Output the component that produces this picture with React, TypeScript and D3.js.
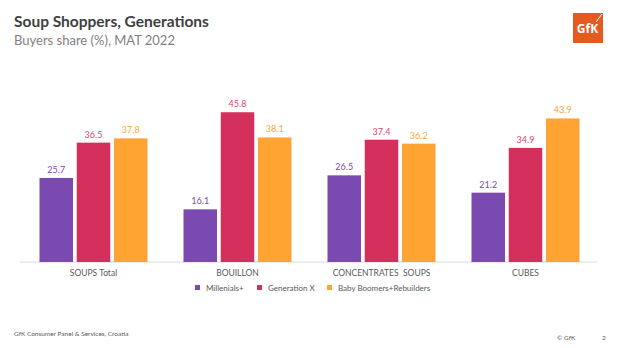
import React from "react";
import * as d3 from "d3";

const categories = ["SOUPS Total", "BOUILLON", "CONCENTRATES  SOUPS", "CUBES"];
const seriesNames = ["Millenials+", "Generation X", "Baby Boomers+Rebuilders"];
const millenials = [25.7, 16.1, 26.5, 21.2];
const generationX = [36.5, 45.8, 37.4, 34.9];
const babyBoomers = [37.8, 38.1, 36.2, 43.9];
const colors = ["#7B4AB0", "#D3305D", "#FFA433"];
const labelColors = ["#7B4AB0", "#D94470", "#FBA63A"];

const W = 620;
const H = 348;

export default function App() {
  const series = [millenials, generationX, babyBoomers];
  const x0 = d3.scaleBand<string>().domain(categories).range([21.5, 597.5]).paddingInner(0.25).paddingOuter(0.125);
  const x1 = d3.scaleBand<number>().domain([0, 1, 2]).range([0, x0.bandwidth()]).paddingInner(0.1);
  const y = d3.scaleLinear().domain([0, 50]).range([262, 98.5]);
  const font = "Lato, 'Open Sans', sans-serif";
  const legendX = [195, 257, 327];

  return (
    <svg width={W} height={H} style={{ position: "absolute", left: 0, top: 0, background: "#fff" }} fontFamily={font}>
      <rect width={W} height={H} fill="#fff" />
      <text x={14} y={27} fontSize={15.5} fontWeight={700} fill="#3F3F3F">Soup Shoppers, Generations</text>
      <text x={14} y={45} fontSize={13} fill="#7F7F7F">Buyers share (%), MAT 2022</text>

      <g>
        <rect x={573} y={13} width={30} height={30} fill="#E55A1E" />
        <text x={587.5} y={33} fontSize={12} fontWeight={700} fill="#fff" textAnchor="middle" fontFamily="'Open Sans', sans-serif">GfK</text>
        <line x1={596} y1={22} x2={602} y2={14} stroke="#fff" strokeWidth={1} />
      </g>

      <line x1={20} x2={597} y1={y(0)} y2={y(0)} stroke="#D9D9D9" strokeWidth={1} />

      {categories.map((c, ci) => (
        <g key={c} transform={`translate(${x0(c)},0)`}>
          {series.map((s, si) => {
            const bx = x1(si)!;
            const v = s[ci];
            return (
              <g key={si}>
                <rect x={bx} y={y(v)} width={x1.bandwidth()} height={y(0) - y(v)} fill={colors[si]} />
                <text x={bx + x1.bandwidth() / 2} y={y(v) - 5} fontSize={9} textAnchor="middle" fill={labelColors[si]}>
                  {v.toFixed(1)}
                </text>
              </g>
            );
          })}
          <text x={x0.bandwidth() / 2} y={276} fontSize={8.5} textAnchor="middle" fill="#595959" style={{ whiteSpace: "pre" }}>{c}</text>
        </g>
      ))}

      {seriesNames.map((n, i) => (
        <g key={n}>
          <rect x={legendX[i]} y={285} width={5} height={5} fill={colors[i]} />
          <text x={legendX[i] + 11} y={290.5} fontSize={8} fill="#595959">{n}</text>
        </g>
      ))}

      <text x={14} y={336} fontSize={6.5} fill="#595959">GfK Consumer Panel &amp; Services, Croatia</text>
      <text x={557} y={340} fontSize={6.5} fill="#595959">© GfK</text>
      <text x={602} y={340} fontSize={6.5} fill="#595959">2</text>
    </svg>
  );
}
